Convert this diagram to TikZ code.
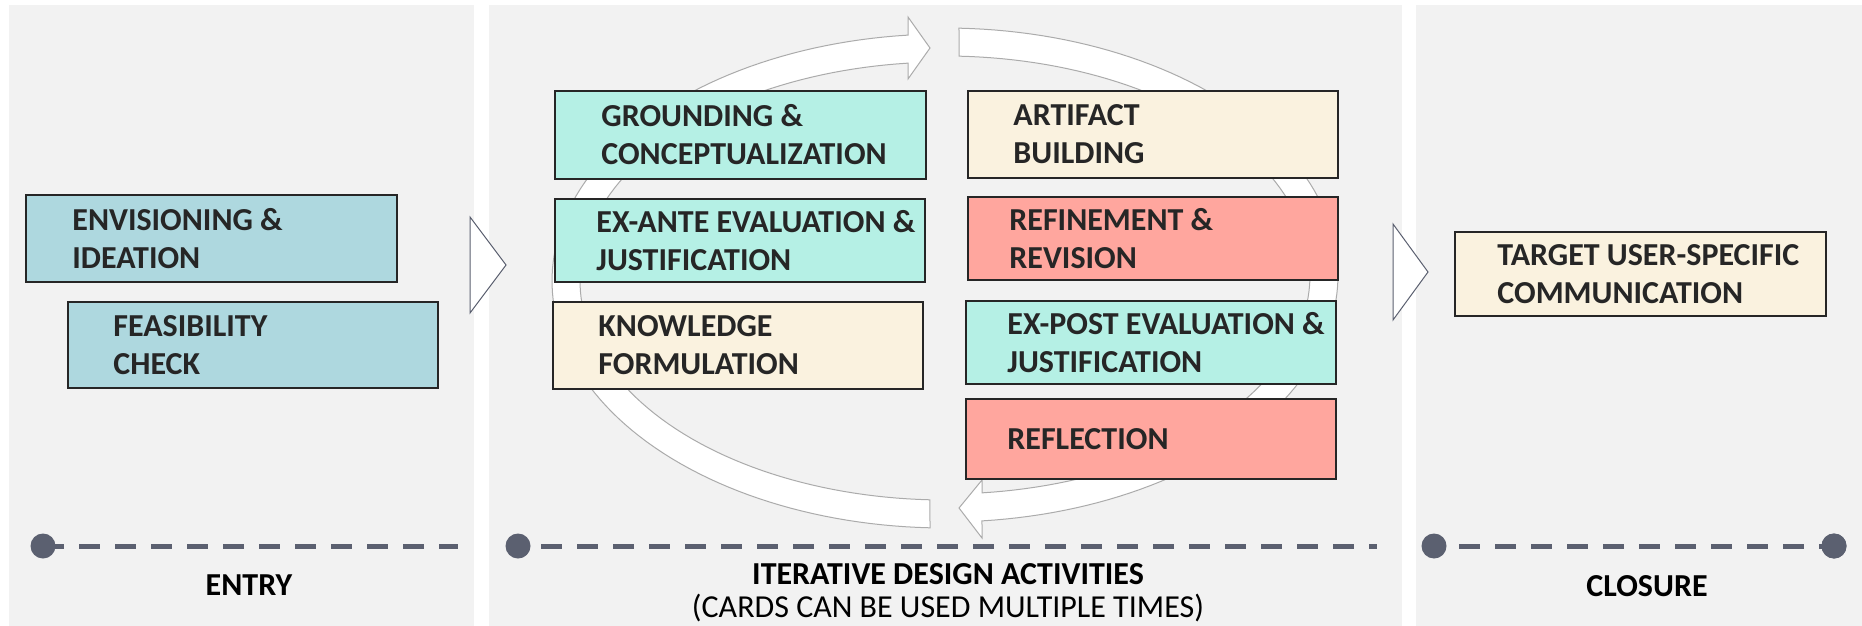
\documentclass[tikz,border=0pt]{standalone}
\usepackage{fontspec}
\setmainfont{Carlito}
\definecolor{panelgray}{HTML}{F2F2F2}
\definecolor{cblue}{HTML}{AED8DF}
\definecolor{cmint}{HTML}{B5F0E5}
\definecolor{ccream}{HTML}{FAF2DF}
\definecolor{csalmon}{HTML}{FFA69E}
\definecolor{cedge}{HTML}{262626}
\definecolor{ctext}{HTML}{262626}
\definecolor{dotc}{HTML}{5B6070}
\definecolor{ringc}{HTML}{ABABAB}
\definecolor{chevc}{HTML}{5B6070}
\begin{document}
\begin{tikzpicture}[x=0.5pt,y=-0.5pt,
  card/.style={draw=cedge, line width=0.6pt, inner sep=0pt, outer sep=0pt},
  cardtext/.style={anchor=west, align=left, inner sep=0pt, text=ctext,
     font=\fontsize{16}{19}\selectfont\bfseries},
  lbl/.style={anchor=base, inner sep=0pt, text=black, font=\fontsize{16}{19}\selectfont\bfseries},
  sublbl/.style={anchor=base, inner sep=0pt, text=black, font=\fontsize{16}{19}\selectfont},
  ring/.style={fill=white, draw=ringc, line width=0.5pt},
  chev/.style={fill=white, draw=chevc, line width=0.5pt},
  tdot/.style={circle, fill=dotc, inner sep=0pt, minimum size=12.5pt},
  tline/.style={draw=dotc, line width=2.5pt, dash pattern=on 10.5pt off 7.5pt}]
\useasboundingbox (0,0) rectangle (1862,626);
\fill[white] (0,0) rectangle (1862,626);
% panels
\fill[panelgray] (9,5) rectangle (474,626);
\fill[panelgray] (489,5) rectangle (1402,626);
\fill[panelgray] (1416,5) rectangle (1862,626);
% cycle arrows
\filldraw[ring] plot[domain=92.19:264.6,samples=100] ({945+393*cos(\x)},{281+247*sin(\x)})
  -- (908,17) -- (930,48) -- (908,79)
  -- plot[domain=264.18:92.36,samples=100] ({945+365*cos(\x)},{281+219*sin(\x)}) -- cycle;
\filldraw[ring] plot[domain=-87.96:84.6,samples=100] ({945+393*cos(\x)},{275+247*sin(\x)})
  -- (982,538) -- (959,508) -- (982,480)
  -- plot[domain=84.18:-87.80,samples=100] ({945+365*cos(\x)},{275+219*sin(\x)}) -- cycle;
% chevrons
\draw[chev] (470,217) -- (506,265) -- (470,313) -- cycle;
\draw[chev] (1393,224) -- (1428,272) -- (1393,320) -- cycle;
% entry cards
\node[card, fill=cblue, minimum width=185.5pt, minimum height=43.5pt] (env) at (211.5,238.5) {};
\node[cardtext] (envt) at ([xshift=23pt]env.west) {ENVISIONING \&\\IDEATION};
\node[card, fill=cblue, minimum width=185pt, minimum height=43pt] (feas) at (253,345) {};
\node[cardtext] (feast) at ([xshift=22.5pt]feas.west) {FEASIBILITY\\CHECK};
% iterative cards, left column
\node[card, fill=cmint, minimum width=185.5pt, minimum height=44pt] (gro) at (740.5,135) {};
\node[cardtext] (grot) at ([xshift=23pt]gro.west) {GROUNDING \&\\CONCEPTUALIZATION};
\node[card, fill=cmint, minimum width=185pt, minimum height=41.5pt] (exa) at (740,240.5) {};
\node[cardtext] (exat) at ([xshift=20.5pt]exa.west) {EX-ANTE EVALUATION \&\\JUSTIFICATION};
\node[card, fill=ccream, minimum width=185pt, minimum height=43.5pt] (kno) at (738,345.5) {};
\node[cardtext] (knot) at ([xshift=22.5pt]kno.west) {KNOWLEDGE\\FORMULATION};
% iterative cards, right column
\node[card, fill=ccream, minimum width=185pt, minimum height=43.5pt] (art) at (1153,134.5) {};
\node[cardtext] (artt) at ([xshift=22.5pt]art.west) {ARTIFACT\\BUILDING};
\node[card, fill=csalmon, minimum width=185pt, minimum height=41.5pt] (ref) at (1153,238.5) {};
\node[cardtext] (reft) at ([xshift=20.5pt]ref.west) {REFINEMENT \&\\REVISION};
\node[card, fill=cmint, minimum width=185pt, minimum height=41.5pt] (exp) at (1151,342.5) {};
\node[cardtext] (expt) at ([xshift=20.5pt]exp.west) {EX-POST EVALUATION \&\\JUSTIFICATION};
\node[card, fill=csalmon, minimum width=185pt, minimum height=40pt] (rfl) at (1151,439) {};
\node[cardtext] (rflt) at ([xshift=20.5pt]rfl.west) {REFLECTION};
% closure card
\node[card, fill=ccream, minimum width=185.5pt, minimum height=42pt] (tgt) at (1640.5,274) {};
\node[cardtext] (tgtt) at ([xshift=21pt]tgt.west) {TARGET USER-SPECIFIC\\COMMUNICATION};
% timelines
\coordinate (l1e) at (458,546);
\coordinate (l2s) at (541,546);
\coordinate (l2e) at (1377,546);
\coordinate (l3s) at (1459,546);
\draw[tline] (43,546) coordinate (l1s) -- (l1e);
\node[tdot] (d1) at (l1s) {};
\draw[tline] (l2s) -- (l2e);
\node[tdot] (d2) at (518,546) {};
\node[tdot] (d4) at (1834,546) {};
\draw[tline] (l3s) -- (d4.center);
\node[tdot] (d3) at (1434,546) {};
\node[tdot] (d4b) at (d4) {};
% labels
\node[lbl] (entry) at (249,595) {ENTRY};
\node[lbl] (iter) at (948,584) {ITERATIVE DESIGN ACTIVITIES};
\node[sublbl] (cards) at (948,617) {(CARDS CAN BE USED MULTIPLE TIMES)};
\node[lbl] (closure) at (1647,596) {CLOSURE};
\end{tikzpicture}
\end{document}
